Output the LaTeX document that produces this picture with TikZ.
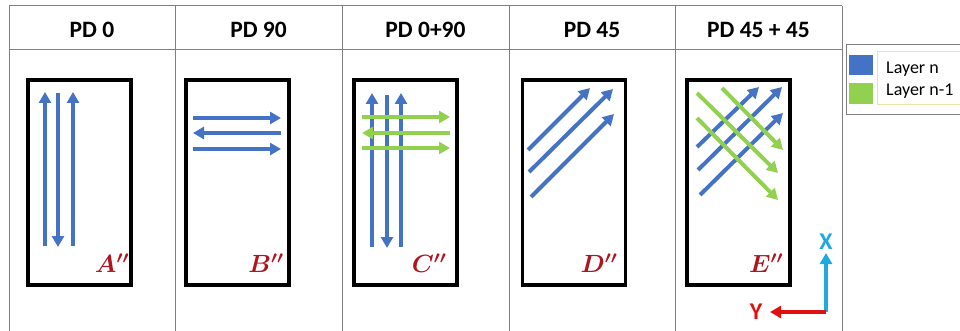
\documentclass[tikz,border=0pt]{standalone}
\usepackage{fontspec}
\setmainfont{Carlito}
\usepackage{bm}
\usetikzlibrary{arrows.meta}
\definecolor{layerblue}{HTML}{4472C4}
\definecolor{layergreen}{HTML}{92D050}
\definecolor{labelred}{HTML}{B0141E}
\definecolor{gridgray}{HTML}{7F7F7F}
\definecolor{axiscyan}{HTML}{1EA9E0}
\definecolor{axisred}{HTML}{E01010}
\definecolor{keyframe}{HTML}{EDE3A6}
\begin{document}
\begin{tikzpicture}[x=1pt,y=-1pt,
  grid/.style={draw=gridgray,line width=1pt},
  head/.style={font=\fontsize{23.5}{26}\selectfont\bfseries,inner sep=0pt},
  sample/.style={draw=black,line width=3.5pt,minimum width=103pt,minimum height=205pt,inner sep=0pt},
  tag/.style={text=labelred,font=\fontsize{24}{26}\selectfont,inner sep=0pt},
  tip/.style={-{Triangle[length=11pt,width=12pt]}},
  bluearr/.style={draw=layerblue,line width=4pt,tip},
  greenarr/.style={draw=layergreen,line width=4pt,tip},
  axislabel/.style={font=\fontsize{24}{26}\selectfont\bfseries,inner sep=0pt},
  keytext/.style={font=\fontsize{18}{20}\selectfont,anchor=west,inner sep=0pt}]
\useasboundingbox (0,0) rectangle (960,331);
\clip (0,0) rectangle (960,331);

% table frame
\draw[grid] (9,6) -- (842,6);
\draw[grid] (9,50) -- (842,50);
\foreach \cx in {9,175,342,509,675,842}
  \draw[grid] (\cx,6) -- (\cx,340);

% column headings
\node[head] (h1) at (92,30) {PD 0};
\node[head] (h2) at (258.5,30) {PD 90};
\node[head] (h3) at (425.5,30) {PD 0+90};
\node[head] (h4) at (592,30) {PD 45};
\node[head] (h5) at (758.5,30) {PD 45 + 45};

% sample outlines
\node[sample] (bA) at (79.5,182.5) {};
\node[sample] (bB) at (237.5,182.5) {};
\node[sample] (bC) at (405.5,182.5) {};
\node[sample] (bD) at (574,182.5) {};
\node[sample] (bE) at (738.5,182.5) {};

% PD 0
\draw[bluearr] (45,246) -- (45,92);
\draw[bluearr] (58,93) -- (58,247);
\draw[bluearr] (73,246) -- (73,92);

% PD 90
\draw[bluearr] (193,118) -- (281,118);
\draw[bluearr] (281,133) -- (193,133);
\draw[bluearr] (193,149) -- (281,149);

% PD 0+90
\draw[bluearr] (372,247) -- (372,93);
\draw[bluearr] (387,95) -- (387,248);
\draw[bluearr] (401,247) -- (401,93);
\draw[greenarr] (362,117) -- (450,117);
\draw[greenarr] (450,133) -- (362,133);
\draw[greenarr] (362,148) -- (450,148);

% PD 45
\draw[bluearr] (528,150) -- (590,88);
\draw[bluearr] (529,172) -- (613,89);
\draw[bluearr] (531,197) -- (614,114);

% PD 45 + 45
\draw[bluearr] (697,147) -- (759,87);
\draw[bluearr] (698,170) -- (782,87);
\draw[bluearr] (700,195) -- (783,113);
\draw[greenarr] (722,88) -- (783,150);
\draw[greenarr] (697,93) -- (778,173);
\draw[greenarr] (697,118) -- (778,200);

% sample labels
\node[tag] (tA) at (112,263) {$\bm{A''}$};
\node[tag] (tB) at (266,263) {$\bm{B''}$};
\node[tag] (tC) at (429,263) {$\bm{C''}$};
\node[tag] (tD) at (599,263) {$\bm{D''}$};
\node[tag] (tE) at (766,263) {$\bm{E''}$};

% axes
\coordinate (o) at (826,312);
\node[axislabel,text=axiscyan] (ax) at (826,242) {X};
\node[axislabel,text=axisred] (ay) at (756,312) {Y};
\draw[draw=axiscyan,line width=4pt,tip] (o) -- (826,253);
\draw[draw=axisred,line width=4pt,tip] (o) -- (770,312);

% legend
\draw[draw=gridgray,line width=1pt] (846,45) rectangle (975,115);
\draw[draw=keyframe,line width=1pt] (877,52) rectangle (975,105);
\node[fill=layerblue,minimum width=24pt,minimum height=20pt,inner sep=0pt] (kb) at (861,65) {};
\node[fill=layergreen,minimum width=24pt,minimum height=21pt,inner sep=0pt] (kg) at (861,93.5) {};
\node[keytext] (lb) at (886,69) {Layer n};
\node[keytext] (lg) at (886,91) {Layer n-1};
\end{tikzpicture}
\end{document}
